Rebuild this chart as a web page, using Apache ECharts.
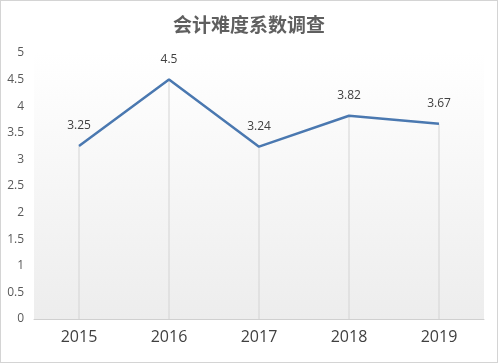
<!DOCTYPE html>
<html><head><meta charset="utf-8">
<script src="https://cdn.jsdelivr.net/npm/echarts@6/dist/echarts.min.js"></script>
<style>html,body{margin:0;padding:0;background:#fff}#c{width:498px;height:363px;box-sizing:border-box;border:1px solid #d4d4d4}</style>
</head><body><div id="c"></div>
<script>
var categories = ['2015','2016','2017','2018','2019'];
var values = [3.25, 4.5, 3.24, 3.82, 3.67];
var yTicks = [0, 0.5, 1, 1.5, 2, 2.5, 3, 3.5, 4, 4.5, 5];

var chart = echarts.init(document.getElementById('c'));
chart.setOption({
  animation: false,
  title: {
    text: '会计难度系数调查', left: 'center', top: 9,
    textStyle: {fontFamily: 'Noto Sans CJK SC', fontSize: 19, fontWeight: 'bold', color: '#5f5f5f'}
  },
  grid: {
    left: 33, right: 13, top: 52, bottom: 43, show: true, borderWidth: 0,
    backgroundColor: {type: 'linear', x: 0, y: 0, x2: 0, y2: 1,
      colorStops: [{offset: 0, color: '#ffffff'}, {offset: 1, color: '#ededed'}]}
  },
  xAxis: {
    type: 'category', data: categories, boundaryGap: true,
    axisLine: {lineStyle: {color: '#d0d0d0'}}, axisTick: {show: false},
    axisLabel: {fontFamily: 'Open Sans', fontSize: 16, color: '#404040', margin: 10}
  },
  yAxis: {
    type: 'value', min: 0, max: 5, interval: 0.5,
    splitLine: {show: false}, axisLine: {show: false}, axisTick: {show: false},
    axisLabel: {fontFamily: 'Open Sans', fontSize: 12, color: '#595959', margin: 10,
      formatter: function (v) { return String(v); }}
  },
  series: [
    {
      type: 'bar', data: values, barWidth: 1, barGap: '-100%',
      itemStyle: {color: '#d3d3d3'}, silent: true, z: 1
    },
    {
      type: 'line', data: values, showSymbol: true, symbol: 'circle', symbolSize: 0.1, z: 3,
      itemStyle: {color: '#4a78b0'},
      lineStyle: {color: '#4a78b0', width: 2.5},
      label: {show: true, position: 'top', distance: 14, fontFamily: 'Open Sans', fontSize: 12, color: '#404040'}
    }
  ]
});
</script></body></html>
